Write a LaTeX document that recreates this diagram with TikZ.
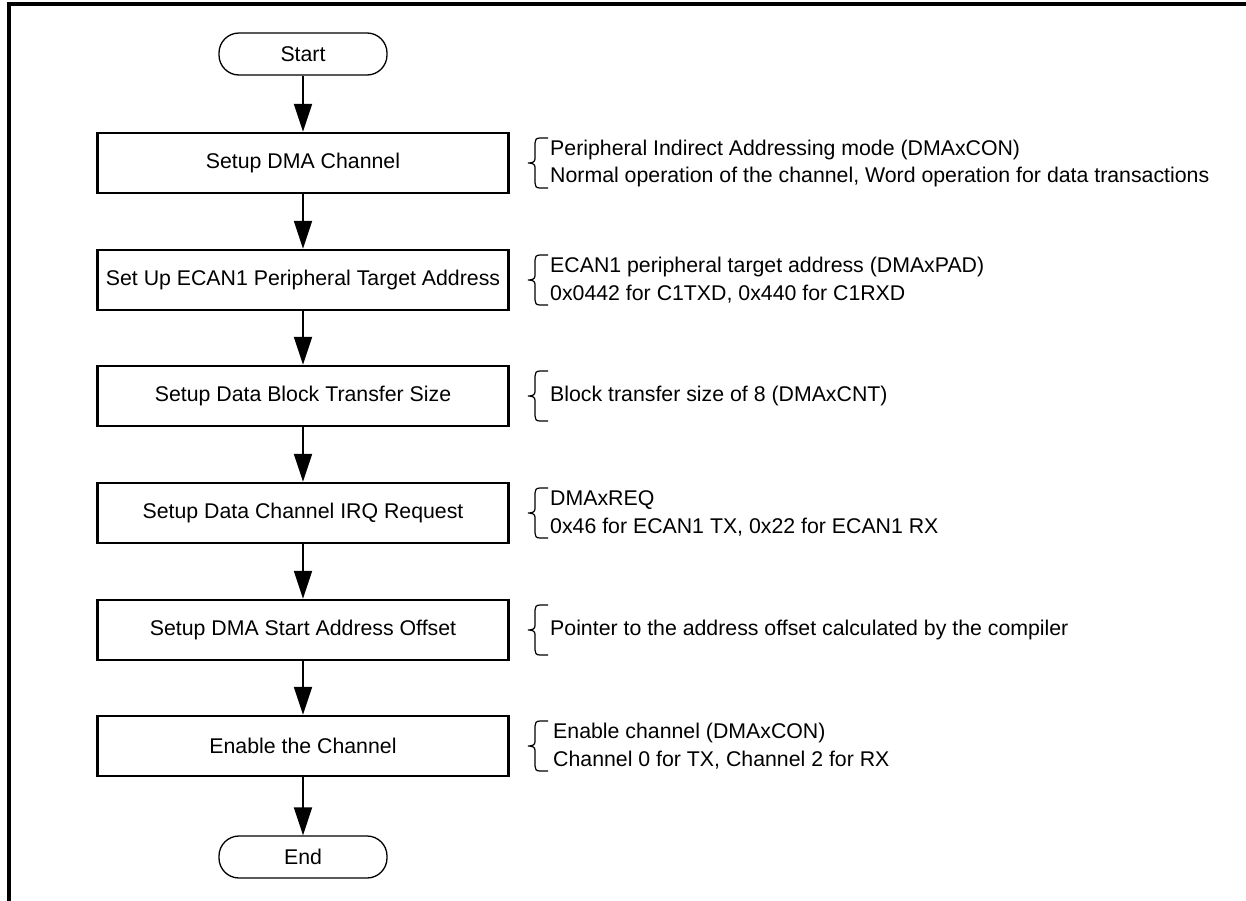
\documentclass[tikz,border=0pt]{standalone}
\usepackage{fontspec}
\setmainfont{Liberation Sans}
\usetikzlibrary{arrows.meta}
\begin{document}
\begin{tikzpicture}[x=1pt,y=-1pt,
  every node/.style={font=\fontsize{21.3}{27}\selectfont},
  stepbox/.style={draw,line width=2.5pt,minimum width=411pt,minimum height=60pt,inner sep=0pt},
  term/.style={draw,line width=1.3pt,rounded corners=20pt,minimum width=168pt,minimum height=42pt,inner sep=0pt},
  flow/.style={line width=2pt,-{Triangle[length=28pt,width=18pt]}},
  brk/.style={line width=1.2pt},
  note/.style={anchor=west,inner sep=0pt,align=left}]
\useasboundingbox (0,0) rectangle (1246,900);
\draw[line width=4pt] (9,902) -- (9,4) -- (1248,4);

\node[term] (start) at (303,54) {Start};
\node[stepbox] (s1) at (303,163) {Setup DMA Channel};
\node[stepbox] (s2) at (303,280) {Set Up ECAN1 Peripheral Target Address};
\node[stepbox] (s3) at (303,396) {Setup Data Block Transfer Size};
\node[stepbox] (s4) at (303,513) {Setup Data Channel IRQ Request};
\node[stepbox] (s5) at (303,630) {Setup DMA Start Address Offset};
\node[stepbox] (s6) at (303,746) {Enable the Channel};
\node[term] (end) at (303,857) {End};

\draw[flow] (start) -- (s1);
\draw[flow] (s1) -- (s2);
\draw[flow] (s2) -- (s3);
\draw[flow] (s3) -- (s4);
\draw[flow] (s4) -- (s5);
\draw[flow] (s5) -- (s6);
\draw[flow] (s6) -- (end);

\newcommand\mybrk[2]{%
  \draw[brk] (548,{#1-#2}) -- (540,{#1-#2}) .. controls (536,{#1-#2}) and (535,{#1-#2+2}) .. (535,{#1-#2+5})
    -- (535,{#1-4}) .. controls (535,{#1-1}) and (532,#1) .. (528,#1)
    .. controls (532,#1) and (535,{#1+1}) .. (535,{#1+4})
    -- (535,{#1+#2-5}) .. controls (535,{#1+#2-2}) and (536,{#1+#2}) .. (540,{#1+#2}) -- (548,{#1+#2});}

\mybrk{163}{25}
\mybrk{280}{25}
\mybrk{396}{25}
\mybrk{513}{25}
\mybrk{630}{25}
\mybrk{746}{25}

\node[note] (n1a) at (550,150) {Peripheral Indirect Addressing mode (DMAxCON)};
\node[note] (n1b) at (550,177) {Normal operation of the channel, Word operation for data transactions};
\node[note] (n2a) at (550,267) {ECAN1 peripheral target address (DMAxPAD)};
\node[note] (n2b) at (550,294) {0x0442 for C1TXD, 0x440 for C1RXD};
\node[note] (n3) at (550,396) {Block transfer size of 8 (DMAxCNT)};
\node[note] (n4a) at (550,500) {DMAxREQ};
\node[note] (n4b) at (550,527) {0x46 for ECAN1 TX, 0x22 for ECAN1 RX};
\node[note] (n5) at (550,630) {Pointer to the address offset calculated by the compiler};
\node[note] (n6a) at (553,733) {Enable channel (DMAxCON)};
\node[note] (n6b) at (553,760) {Channel 0 for TX, Channel 2 for RX};
\end{tikzpicture}
\end{document}
